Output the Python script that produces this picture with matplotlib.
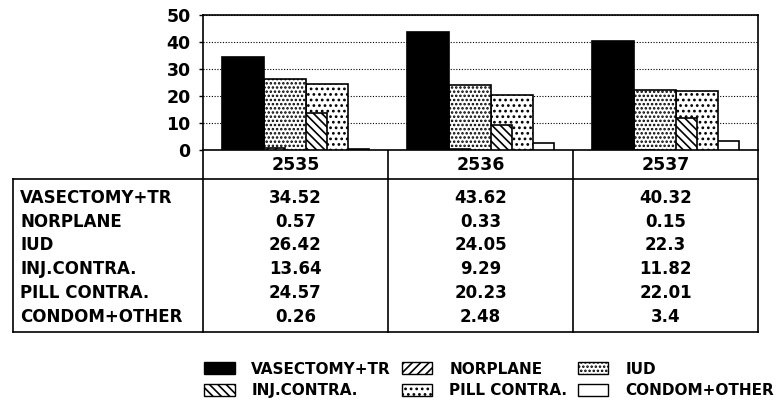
import numpy as np
import matplotlib.pyplot as plt
from matplotlib.patches import Patch

# Data
years = ['2535', '2536', '2537']
methods = ['VASECTOMY+TR', 'NORPLANE', 'IUD', 'INJ.CONTRA.', 'PILL CONTRA.', 'CONDOM+OTHER']
vasectomy = [34.52, 43.62, 40.32]
norplane = [0.57, 0.33, 0.15]
iud = [26.42, 24.05, 22.3]
inj = [13.64, 9.29, 11.82]
pill = [24.57, 20.23, 22.01]
condom = [0.26, 2.48, 3.4]
series = [vasectomy, norplane, iud, inj, pill, condom]

plt.rcParams['hatch.linewidth'] = 1.2
styles = [
    dict(facecolor='black', hatch=None),
    dict(facecolor='white', hatch='////'),
    dict(facecolor='white', hatch='....'),
    dict(facecolor='white', hatch='\\\\\\\\'),
    dict(facecolor='white', hatch='...'),
    dict(facecolor='white', hatch=None),
]

W, H = 781, 403
fig = plt.figure(figsize=(W / 100, H / 100), dpi=100)

# pixel layout
x_left, x_right, y_top, y_zero = 203, 758, 15, 150
ax = fig.add_axes([x_left / W, 1 - y_zero / H, (x_right - x_left) / W, (y_zero - y_top) / H])

# overlapping bars: each bar shifted by half a bar width, left ones on top
w = 0.227
x = np.arange(len(years))
for j, (vals, st) in enumerate(zip(series, styles)):
    left = x - 1.75 * w + j * 0.5 * w
    ax.bar(left, vals, width=w, align='edge', edgecolor='black', linewidth=1.2,
           zorder=10 - j, **st)

ax.set_xlim(-0.5, 2.5)
ax.set_ylim(0, 50)
ax.set_yticks([0, 10, 20, 30, 40, 50])
ax.set_xticks([])
ax.yaxis.grid(True, linestyle=(0, (1, 1.5)), color='black', linewidth=0.8)
ax.set_axisbelow(True)
for lbl in ax.get_yticklabels():
    lbl.set_fontweight('bold')
    lbl.set_fontsize(12.5)
ax.tick_params(axis='y', length=3, width=1, pad=6)
for s in ax.spines.values():
    s.set_linewidth(1.2)

# data table drawn in pixel coordinates
tab = fig.add_axes([0, 0, 1, 1], zorder=-1)
tab.set_xlim(0, W)
tab.set_ylim(H, 0)
tab.axis('off')
cols = [x_left, 388, 573, x_right]
t_left, head_bot, t_bot = 13, 179, 332
lw = 1.2
tab.plot([x_left, x_left], [y_zero, t_bot], color='black', lw=lw)
tab.plot([x_right, x_right], [y_zero, t_bot], color='black', lw=lw)
for cx in cols[1:3]:
    tab.plot([cx, cx], [y_zero, t_bot], color='black', lw=lw)
tab.plot([t_left, x_right], [head_bot, head_bot], color='black', lw=lw)
tab.plot([t_left, x_right], [t_bot, t_bot], color='black', lw=lw)
tab.plot([t_left, t_left], [head_bot, t_bot], color='black', lw=lw)

centers = [(cols[i] + cols[i + 1]) / 2 for i in range(3)]
for cx, yr in zip(centers, years):
    tab.text(cx, (y_zero + head_bot) / 2 + 1, yr, ha='center', va='center',
             fontsize=12.5, fontweight='bold')
row_y = 198 + 23.7 * np.arange(len(methods))
for ry, name, vals in zip(row_y, methods, series):
    tab.text(20, ry, name, ha='left', va='center', fontsize=12, fontweight='bold')
    for cx, v in zip(centers, vals):
        tab.text(cx, ry, f'{v:g}', ha='center', va='center', fontsize=12, fontweight='bold')

# legend
handles = [Patch(edgecolor='black', linewidth=1, **st) for st in styles]
order = [0, 3, 1, 4, 2, 5]
fig.legend([handles[i] for i in order], [methods[i] for i in order], ncol=3,
           loc='center left', bbox_to_anchor=(204 / W, 1 - 380 / H), frameon=False,
           borderaxespad=0, borderpad=0,
           prop=dict(weight='bold', size=11), handlelength=2.0, handleheight=0.8,
           columnspacing=0.7, labelspacing=0.45, handletextpad=1.1)

fig.savefig('out.png', dpi=100)
